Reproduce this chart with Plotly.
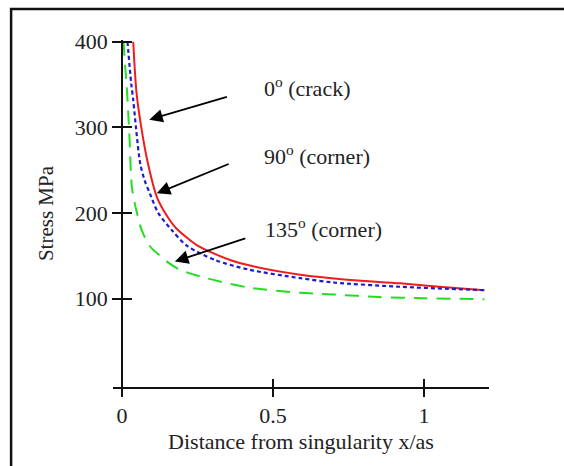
import plotly.graph_objects as go

# Normalised distance from the singularity (x/as) and stress (MPa) per notch angle
x_crack = [0.037, 0.048, 0.065, 0.085, 0.115, 0.15, 0.18, 0.25, 0.29, 0.36, 0.42, 0.59, 0.755, 0.92, 1.05, 1.2]
s_crack = [400, 340, 297, 259, 219, 196, 182, 162, 155, 145, 139, 128, 122, 118, 114, 110]

x_corner90 = [0.018, 0.03, 0.037, 0.046, 0.06, 0.075, 0.093, 0.12, 0.165, 0.214, 0.31, 0.42, 0.59, 0.70, 0.92, 1.2]
s_corner90 = [400, 352, 332, 300, 258, 238, 222, 200, 180, 162, 145, 134, 124, 119, 114, 110]

x_corner135 = [0.005, 0.01, 0.015, 0.02, 0.025, 0.032, 0.04, 0.048, 0.065, 0.093, 0.13, 0.15, 0.19,
               0.28, 0.42, 0.59, 0.7, 0.85, 1.0, 1.2]
s_corner135 = [400, 372, 350, 320, 285, 232, 215, 202, 180, 161, 149, 143, 134,
               124, 113, 107, 105, 102, 100.5, 99.5]

x_ticks = [0, 0.5, 1]
x_tick_text = ["0", "0.5", "1"]
y_ticks = [100, 200, 300, 400]

# Callout labels and their arrows (tail -> tip), in data units
labels = ["0<sup>o</sup> (crack)", "90<sup>o</sup> (corner)", "135<sup>o</sup> (corner)"]
label_x = [0.463, 0.463, 0.467]
label_y = [347, 268, 183]
tail_x = [0.352, 0.358, 0.413]
tail_y = [336, 258, 171]
tip_x = [0.090, 0.115, 0.175]
tip_y = [309, 223, 143.5]

X_RANGE = [-0.03, 1.215]
Y_RANGE = [-3, 402]
FONT = "Liberation Serif"
INK = "#222222"

fig = go.Figure()
fig.add_trace(go.Scatter(x=x_crack, y=s_crack, mode="lines",
                         line=dict(color="#ee1c1c", width=2, shape="spline", smoothing=0.8)))
fig.add_trace(go.Scatter(x=x_corner90, y=s_corner90, mode="lines",
                         line=dict(color="#1c1ccc", width=2.2, dash="4px,3px",
                                   shape="spline", smoothing=0.8)))
fig.add_trace(go.Scatter(x=x_corner135, y=s_corner135, mode="lines",
                         line=dict(color="#22dd22", width=2, dash="14px,9px",
                                   shape="spline", smoothing=0.8)))

y_pos = (0 - X_RANGE[0]) / (X_RANGE[1] - X_RANGE[0])

for text, lx, ly in zip(labels, label_x, label_y):
    fig.add_annotation(x=lx, y=ly, text=text, showarrow=False, xanchor="left", yanchor="middle",
                       font=dict(family=FONT, size=22, color=INK))
for ax_, ay_, tx, ty in zip(tail_x, tail_y, tip_x, tip_y):
    fig.add_annotation(x=tx, y=ty, ax=ax_, ay=ay_, axref="x", ayref="y", text="",
                       showarrow=True, arrowhead=2, arrowsize=1.5, arrowwidth=1.8,
                       arrowcolor="#000000")

# outer frame
fig.add_shape(type="rect", xref="paper", yref="paper", x0=-0.271, x1=2.0, y0=-1.0, y1=1.089,
              line=dict(color="#111111", width=2.5), layer="below")

fig.update_layout(
    width=564, height=466,
    margin=dict(l=113, r=75, t=40, b=79),
    paper_bgcolor="white", plot_bgcolor="white",
    showlegend=False,
    font=dict(family=FONT, size=22, color=INK),
    xaxis=dict(range=X_RANGE, tickvals=x_ticks, ticktext=x_tick_text, ticks="outside",
               ticklen=8, tickwidth=2, tickcolor="#111", showline=True, linewidth=2,
               linecolor="#111", showgrid=False, zeroline=False, anchor="y",
               tickfont=dict(family=FONT, size=22, color=INK),
               title=dict(text="Distance from singularity x/as", standoff=6,
                          font=dict(family=FONT, size=22, color=INK))),
    yaxis=dict(range=Y_RANGE, tickvals=y_ticks, ticks="outside", ticklen=9, tickwidth=2,
               tickcolor="#111", showline=True, linewidth=2, linecolor="#111",
               showgrid=False, zeroline=False, anchor="free", position=y_pos,
               tickfont=dict(family=FONT, size=22, color=INK),
               title=dict(text="Stress MPa", standoff=14,
                          font=dict(family=FONT, size=21, color=INK))),
    xaxis2=dict(range=X_RANGE, matches="x", overlaying="x", anchor="y", tickvals=x_ticks,
                ticks="inside", ticklen=8, tickwidth=2, tickcolor="#111",
                showticklabels=False, showline=False, showgrid=False, zeroline=False),
    yaxis2=dict(range=Y_RANGE, matches="y", overlaying="y", anchor="free", position=y_pos,
                tickvals=y_ticks, ticks="inside", ticklen=9, tickwidth=2, tickcolor="#111",
                showticklabels=False, showline=False, showgrid=False, zeroline=False),
)
# empty trace so the overlay axes carrying the inner tick halves get drawn
fig.add_trace(go.Scatter(x=[None], y=[None], xaxis="x2", yaxis="y2", showlegend=False))

fig.write_html("out.html", config={"displayModeBar": False})
